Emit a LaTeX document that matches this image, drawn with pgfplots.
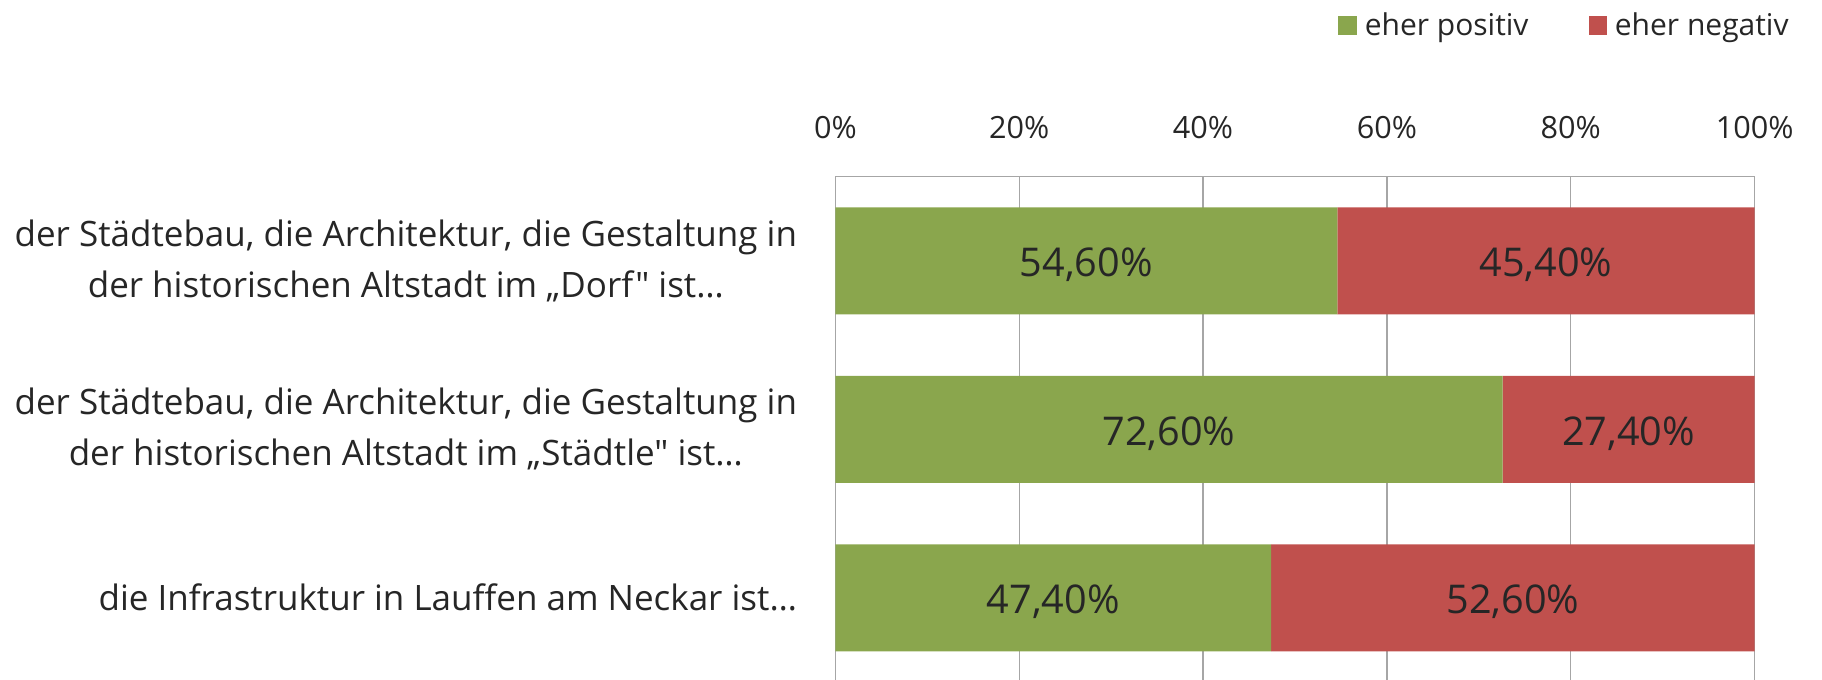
\documentclass[border=0pt]{standalone}
\usepackage{fontspec}
\setmainfont{Open Sans}[Ligatures=TeXOff]
\usepackage{pgfplots}
\usepackage{pgfplotstable}
\pgfplotsset{compat=1.18}
\definecolor{posgreen}{HTML}{8AA64D}
\definecolor{negred}{HTML}{C0504D}
\definecolor{textc}{HTML}{262626}
\definecolor{gridc}{HTML}{A6A6A6}
\pgfplotstableread{
idx val
0 54.6
1 72.6
2 47.4
}\positiv
\pgfplotstableread{
idx val
0 45.4
1 27.4
2 52.6
}\negativ
\pgfplotsset{
  seglabels/.style={
    point meta=explicit,
    nodes near coords={\pgfmathprintnumber[fixed, fixed zerofill, precision=2, use comma, assume math mode=true]{\pgfplotspointmeta}\%},
    every node near coord/.append style={font=\fontsize{19.8}{22}\selectfont, text=textc, anchor=center, yshift=-2pt}
  }
}
\begin{document}
\begin{tikzpicture}
\begin{axis}[
  at={(417.7pt,-1pt)}, anchor=south west,
  scale only axis, width=459.6pt, height=252.7pt,
  xbar stacked, bar width=53.5pt,
  xmin=0, xmax=100, ymin=-0.5, ymax=2.5, y dir=reverse,
  xtick={0,20,40,60,80,100},
  xticklabels={0\%,20\%,40\%,60\%,80\%,100\%},
  xticklabel pos=upper,
  xticklabel style={font=\fontsize{15.3}{18}\selectfont, text=textc, anchor=center, yshift=24.3pt},
  ytick={0,1,2},
  yticklabels={{der Städtebau, die Architektur, die Gestaltung in\\der historischen Altstadt im „Dorf" ist…},
               {der Städtebau, die Architektur, die Gestaltung in\\der historischen Altstadt im „Städtle" ist…},
               {die Infrastruktur in Lauffen am Neckar ist…}},
  yticklabel style={font=\fontsize{17.5}{25.5}\selectfont, text=textc, align=center, inner sep=0pt, xshift=-19pt},
  major tick length=0pt,
  xmajorgrids, grid style={gridc, line width=0.7pt},
  axis line style={gridc, line width=0.7pt},
  legend columns=2,
  legend style={at={(axis description cs:1,1)}, anchor=east, xshift=19.2pt, yshift=75.5pt,
    draw=none, fill=none, inner sep=0pt, font=\fontsize{15}{18}\selectfont, text=textc,
    /tikz/every odd column/.append style={column sep=1.8pt},
    /tikz/every even column/.append style={column sep=28pt}},
  legend image code/.code={\fill[#1] (0pt,-4.7pt) rectangle (9.4pt,4.7pt);},
]
\addplot[fill=posgreen, draw=none, seglabels] table[x=val, y=idx, meta=val] {\positiv};
\addplot[fill=negred, draw=none, seglabels] table[x=val, y=idx, meta=val] {\negativ};
\legend{eher positiv, eher negativ}
\end{axis}
\pgfresetboundingbox
\path[use as bounding box] (0,0) rectangle (911pt,340pt);
\end{tikzpicture}
\end{document}
